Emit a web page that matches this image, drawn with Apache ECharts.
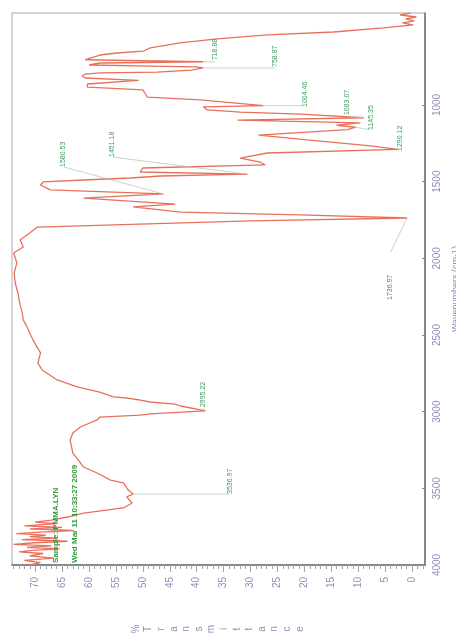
<!DOCTYPE html>
<html>
<head>
<meta charset="utf-8">
<script src="https://cdn.jsdelivr.net/npm/echarts@6/dist/echarts.min.js"></script>
<style>
  html, body { margin: 0; padding: 0; background: #ffffff; }
  #chart { width: 456px; height: 637px; }
</style>
</head>
<body>
<div id="chart"></div>
<script>
// IR spectrum, drawn turned on its side: wavenumber runs down the right axis,
// %Transmittance runs right-to-left along the bottom axis.

const wavenumbers = [
  400, 413, 426, 439, 452, 465, 478, 497, 524, 543, 569, 595, 628, 648, 661, 674, 694, 705,
  718, 726, 739, 746, 752, 758, 772, 785, 791, 798, 811, 824, 840, 863, 883, 902, 922, 948,
  967, 1004, 1012, 1032, 1046, 1059, 1083, 1098, 1117, 1132, 1145, 1160, 1196, 1228, 1267, 1290,
  1313, 1346, 1372, 1391, 1411, 1437, 1451, 1463, 1476, 1489, 1502, 1522, 1554, 1580, 1607,
  1646, 1665, 1698, 1717, 1737, 1756, 1796, 1835, 1880, 1926, 1965, 2030, 2096, 2161, 2226,
  2304, 2356, 2402, 2448, 2533, 2617, 2683, 2728, 2793, 2839, 2872, 2904, 2911, 2924, 2937,
  2951, 2963, 2995, 3015, 3022, 3035, 3054, 3100, 3139, 3185, 3270, 3315, 3361, 3400, 3446,
  3465, 3511, 3537, 3556, 3596, 3628, 3661, 3687, 3707, 3720, 3730, 3745, 3755, 3765, 3775,
  3785, 3795, 3805, 3815, 3825, 3835, 3845, 3855, 3865, 3875, 3885, 3895, 3905, 3915, 3925,
  3940, 3955, 3970, 3985, 4000
];

const transmittance = [
  0.3, 2.2, -0.8, 1.2, -0.4, 1.8, -0.2, 5.3, 14.6, 26.9, 36.2, 43.1, 48.6, 49.9, 54.8, 57.9, 59.8, 60.7,
  38.8, 57.9, 60.0, 48.6, 40.2, 38.8, 41.0, 47.3, 57.9, 60.7, 61.3, 60.7, 50.8, 60.3, 60.3, 50.0, 49.6, 49.2,
  39.3, 27.6, 38.8, 38.0, 31.9, 20.8, 9.0, 32.4, 9.6, 14.0, 10.5, 12.0, 28.5, 19.5, 7.7, 2.7,
  26.9, 31.9, 28.2, 27.3, 50.0, 50.5, 30.6, 46.7, 52.3, 61.0, 68.5, 69.0, 67.2, 46.2, 61.0,
  44.0, 51.8, 43.0, 20.8, 0.9, 30.0, 69.6, 71.0, 72.8, 72.2, 74.0, 73.4, 73.9, 73.7, 73.2,
  72.8, 72.4, 72.2, 71.5, 70.4, 69.0, 69.5, 68.7, 65.9, 62.2, 58.0, 55.5, 53.0, 50.5, 48.6,
  44.0, 43.0, 38.4, 48.6, 50.5, 58.0, 58.5, 61.6, 63.0, 63.5, 63.0, 62.0, 61.0, 58.5, 56.0,
  53.6, 52.7, 51.8, 53.0, 52.0, 53.6, 61.0, 64.0, 67.0, 70.0, 66.0, 72.0, 65.0, 71.0, 63.0,
  69.0, 73.5, 68.0, 71.0, 66.0, 72.5, 64.0, 70.0, 74.0, 67.0, 71.5, 65.5, 70.5, 73.0, 68.5,
  71.0, 66.5, 72.0, 69.0, 71.0
];

// Peak annotations: wavenumber text and the peak each one marks.
const peakLabels = ['718.88', '758.87', '1004.46', '1083.07', '1145.35', '1290.12',
                    '1451.18', '1580.53', '1736.97', '2995.22', '3536.97'];
const peakWavenumbers = [718, 758, 1004, 1083, 1145, 1290, 1451, 1580, 1737, 2995, 3537];
const peakTransmittance = [38.8, 38.8, 27.6, 9.0, 10.5, 2.7, 30.6, 46.2, 0.9, 38.4, 51.8];

const xTickLabels = [0, 5, 10, 15, 20, 25, 30, 35, 40, 45, 50, 55, 60, 65, 70];
const yTickLabels = [1000, 1500, 2000, 2500, 3000, 3500, 4000];

const headerLines = ['Sample: PMMA.LYN', 'Wed Mar 11 10:33:27 2009'];

// ---- layout of annotation text (in axis units: transmittance, wavenumber) ----
// [leader end T, leader end wn, text T, text start wn]
const annotationPlacement = [
  [36.6, 718, 36.6, 708],
  [25.4, 758, 25.4, 752],
  [20.5, 1004, 19.8, 1013],
  [12.0, 1078, 12.0, 1066],
  [7.9, 1160, 7.7, 1163],
  [2.3, 1298, 2.2, 1300],
  [55.5, 1340, 55.7, 1339],
  [64.6, 1405, 64.8, 1404],
  [4.0, 1960, 4.0, 2272],
  [38.9, 2975, 38.9, 2970],
  [34.0, 3537, 33.8, 3537]
];

const annotationData = peakLabels.map((t, i) => [
  peakTransmittance[i], peakWavenumbers[i],
  annotationPlacement[i][0], annotationPlacement[i][1],
  annotationPlacement[i][2], annotationPlacement[i][3], i
]);

const spectrum = wavenumbers.map((w, i) => [transmittance[i], w]);

const axisTextColor = '#8d8fbd';
const greenText = '#3f9a5c';
const fontFamily = '"Liberation Sans", Arial, sans-serif';

const minorTicks = [];
for (let v = -2; v <= 74; v++) minorTicks.push(v);

const chart = echarts.init(document.getElementById('chart'), null, { renderer: 'canvas' });

const titleChars = '%Transmittance'.split('');
const graphics = titleChars.map((c, i) => ({
  type: 'text',
  x: 136 + i * 12.6,
  y: 629,
  rotation: Math.PI / 2,
  style: {
    text: c, fill: axisTextColor, font: '10px ' + fontFamily,
    align: 'center', verticalAlign: 'middle'
  }
}));
headerLines.forEach((line, i) => {
  graphics.push({
    type: 'text',
    x: 56 + i * 19,
    y: 563,
    rotation: Math.PI / 2,
    z: 10,
    style: {
      text: line, fill: '#2f9a3c', font: 'bold 8px ' + fontFamily,
      align: 'left', verticalAlign: 'middle'
    }
  });
});

chart.setOption({
  animation: false,
  backgroundColor: '#ffffff',
  grid: {
    left: 12, top: 13, width: 413, height: 552,
    outerBoundsMode: 'none',
    show: true, borderColor: '#a8a8a8', borderWidth: 1, backgroundColor: 'transparent'
  },
  xAxis: [{
    type: 'value', min: -2.4, max: 74.3, inverse: true, position: 'bottom',
    axisLine: { show: true, onZero: false, lineStyle: { color: '#6e6e6e', width: 1.5 } },
    axisTick: { show: true, customValues: minorTicks, length: 4, lineStyle: { color: '#a0a0b8' } },
    axisLabel: {
      customValues: xTickLabels, rotate: 90, margin: 12,
      color: axisTextColor, fontSize: 10, fontFamily: fontFamily
    },
    splitLine: { show: false }
  }, {
    type: 'value', min: -2.4, max: 74.3, inverse: true, position: 'bottom',
    axisLine: { show: false, onZero: false },
    axisTick: { show: true, customValues: xTickLabels, length: 7, lineStyle: { color: '#a0a0b8' } },
    axisLabel: { show: false },
    splitLine: { show: false }
  }],
  yAxis: {
    type: 'value', min: 400, max: 4000, inverse: true, position: 'right',
    name: 'Wavenumbers (cm-1)', nameLocation: 'middle', nameRotate: 90, nameGap: 26,
    nameTextStyle: { color: axisTextColor, fontSize: 9, fontFamily: fontFamily },
    axisLine: { show: true, onZero: false, lineStyle: { color: '#6e6e6e', width: 1.5 } },
    axisTick: { show: true, inside: true, customValues: yTickLabels, length: 3, lineStyle: { color: '#888' } },
    axisLabel: {
      customValues: yTickLabels, rotate: 90, margin: 7,
      formatter: v => String(v),
      color: axisTextColor, fontSize: 10, fontFamily: fontFamily
    },
    splitLine: { show: false }
  },
  graphic: graphics,
  series: [{
    type: 'line',
    xAxisIndex: 0,
    data: spectrum,
    showSymbol: false,
    clip: true,
    lineStyle: { color: '#e8705a', width: 1.3 },
    silent: true,
    z: 3
  }, {
    type: 'custom',
    xAxisIndex: 0,
    data: annotationData,
    encode: { x: [0, 2, 4], y: [1, 3, 5] },
    clip: false,
    z: 4,
    renderItem: function (params, api) {
      const peak = api.coord([api.value(0), api.value(1)]);
      const lead = api.coord([api.value(2), api.value(3)]);
      const txt = api.coord([api.value(4), api.value(5)]);
      const idx = api.value(6);
      return {
        type: 'group',
        children: [{
          type: 'line',
          shape: { x1: peak[0], y1: peak[1], x2: lead[0], y2: lead[1] },
          style: { stroke: '#a9c4b2', lineWidth: 0.7 }
        }, {
          type: 'text',
          x: txt[0], y: txt[1],
          rotation: Math.PI / 2,
          style: {
            text: peakLabels[idx], fill: greenText,
            font: '7px ' + fontFamily, align: 'left', verticalAlign: 'middle'
          }
        }]
      };
    }
  }]
});
</script>
</body>
</html>
